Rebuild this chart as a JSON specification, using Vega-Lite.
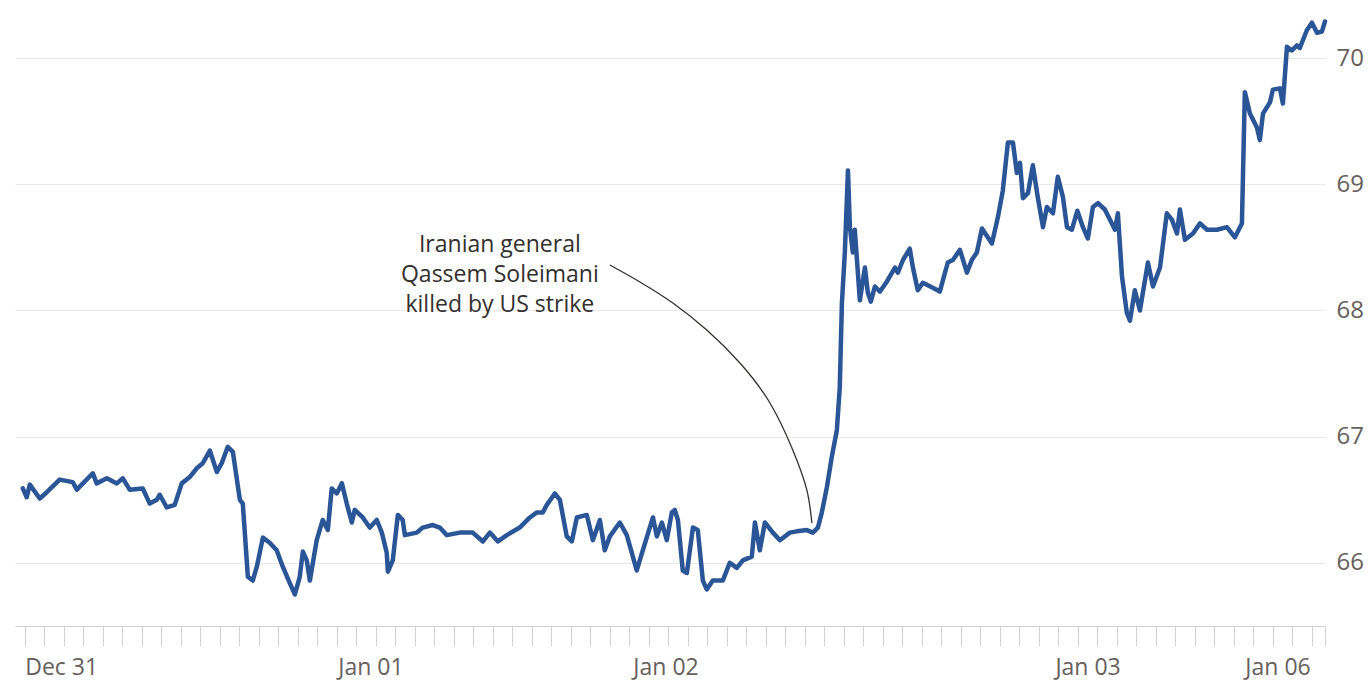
{
  "$schema": "https://vega.github.io/schema/vega-lite/v6.json",
  "width": 1310,
  "height": 626,
  "autosize": {"type": "none"},
  "padding": {"left": 15, "top": 0, "right": 47, "bottom": 58},
  "background": "white",
  "config": {"view": {"stroke": null}, "font": "Open Sans"},
  "datasets": {
    "price": [
      {"t":-0.10,"v":66.59},{"t":0.10,"v":66.52},{"t":0.26,"v":66.62},{"t":0.77,"v":66.51},{"t":1.13,"v":66.56},
      {"t":1.79,"v":66.66},{"t":2.46,"v":66.64},{"t":2.67,"v":66.58},{"t":3.49,"v":66.71},{"t":3.69,"v":66.63},
      {"t":4.21,"v":66.67},{"t":4.72,"v":66.63},{"t":5.03,"v":66.67},{"t":5.38,"v":66.58},{"t":6.05,"v":66.59},
      {"t":6.41,"v":66.47},{"t":6.77,"v":66.50},{"t":6.92,"v":66.54},{"t":7.28,"v":66.44},{"t":7.69,"v":66.46},
      {"t":8.05,"v":66.63},{"t":8.46,"v":66.68},{"t":8.82,"v":66.75},{"t":9.13,"v":66.79},{"t":9.49,"v":66.89},
      {"t":9.85,"v":66.72},{"t":10.10,"v":66.79},{"t":10.41,"v":66.92},{"t":10.67,"v":66.88},{"t":11.03,"v":66.50},
      {"t":11.18,"v":66.47},{"t":11.44,"v":65.89},{"t":11.69,"v":65.86},{"t":11.90,"v":65.97},{"t":12.21,"v":66.20},
      {"t":12.56,"v":66.16},{"t":12.92,"v":66.10},{"t":13.23,"v":65.97},{"t":13.59,"v":65.84},{"t":13.85,"v":65.75},
      {"t":14.10,"v":65.89},{"t":14.26,"v":66.09},{"t":14.46,"v":66.02},{"t":14.62,"v":65.86},{"t":14.97,"v":66.18},
      {"t":15.28,"v":66.34},{"t":15.54,"v":66.26},{"t":15.74,"v":66.59},{"t":16.00,"v":66.55},{"t":16.26,"v":66.63},
      {"t":16.51,"v":66.47},{"t":16.77,"v":66.32},{"t":16.92,"v":66.42},{"t":17.33,"v":66.36},{"t":17.69,"v":66.28},
      {"t":18.05,"v":66.34},{"t":18.31,"v":66.24},{"t":18.56,"v":66.08},{"t":18.62,"v":65.93},{"t":18.87,"v":66.02},
      {"t":19.13,"v":66.38},{"t":19.38,"v":66.34},{"t":19.49,"v":66.22},{"t":20.10,"v":66.24},{"t":20.41,"v":66.28},
      {"t":20.92,"v":66.30},{"t":21.28,"v":66.28},{"t":21.64,"v":66.22},{"t":22.31,"v":66.24},{"t":22.97,"v":66.24},
      {"t":23.49,"v":66.17},{"t":23.85,"v":66.24},{"t":24.26,"v":66.17},{"t":24.72,"v":66.22},{"t":25.38,"v":66.28},
      {"t":25.90,"v":66.36},{"t":26.26,"v":66.40},{"t":26.56,"v":66.40},{"t":26.77,"v":66.46},{"t":27.18,"v":66.55},
      {"t":27.44,"v":66.50},{"t":27.79,"v":66.21},{"t":28.05,"v":66.17},{"t":28.31,"v":66.36},{"t":28.82,"v":66.38},
      {"t":29.13,"v":66.18},{"t":29.49,"v":66.34},{"t":29.74,"v":66.10},{"t":30.00,"v":66.21},{"t":30.51,"v":66.32},
      {"t":30.87,"v":66.22},{"t":31.38,"v":65.94},{"t":31.69,"v":66.10},{"t":32.21,"v":66.36},{"t":32.41,"v":66.21},
      {"t":32.67,"v":66.32},{"t":32.92,"v":66.18},{"t":33.18,"v":66.40},{"t":33.33,"v":66.42},{"t":33.49,"v":66.34},
      {"t":33.74,"v":65.94},{"t":33.95,"v":65.92},{"t":34.26,"v":66.28},{"t":34.51,"v":66.26},{"t":34.77,"v":65.86},
      {"t":34.97,"v":65.79},{"t":35.28,"v":65.86},{"t":35.79,"v":65.86},{"t":36.15,"v":66.00},{"t":36.51,"v":65.96},
      {"t":36.82,"v":66.02},{"t":37.28,"v":66.05},{"t":37.44,"v":66.32},{"t":37.69,"v":66.10},{"t":37.95,"v":66.32},
      {"t":38.36,"v":66.24},{"t":38.72,"v":66.18},{"t":39.23,"v":66.24},{"t":39.59,"v":66.25},{"t":40.10,"v":66.26},
      {"t":40.41,"v":66.24},{"t":40.67,"v":66.28},{"t":40.87,"v":66.40},{"t":41.13,"v":66.60},{"t":41.38,"v":66.84},
      {"t":41.64,"v":67.05},{"t":41.79,"v":67.39},{"t":41.90,"v":68.06},{"t":42.05,"v":68.46},{"t":42.21,"v":69.11},
      {"t":42.31,"v":68.66},{"t":42.46,"v":68.46},{"t":42.56,"v":68.64},{"t":42.82,"v":68.08},{"t":43.08,"v":68.34},
      {"t":43.23,"v":68.14},{"t":43.38,"v":68.07},{"t":43.59,"v":68.19},{"t":43.85,"v":68.15},{"t":44.21,"v":68.23},
      {"t":44.62,"v":68.34},{"t":44.77,"v":68.30},{"t":45.03,"v":68.40},{"t":45.38,"v":68.49},{"t":45.54,"v":68.34},
      {"t":45.79,"v":68.16},{"t":46.05,"v":68.22},{"t":46.56,"v":68.18},{"t":46.92,"v":68.15},{"t":47.08,"v":68.24},
      {"t":47.33,"v":68.38},{"t":47.59,"v":68.40},{"t":47.95,"v":68.48},{"t":48.31,"v":68.30},{"t":48.56,"v":68.40},
      {"t":48.82,"v":68.46},{"t":49.08,"v":68.65},{"t":49.38,"v":68.58},{"t":49.59,"v":68.53},{"t":49.90,"v":68.74},
      {"t":50.15,"v":68.95},{"t":50.41,"v":69.33},{"t":50.67,"v":69.33},{"t":50.87,"v":69.09},{"t":51.03,"v":69.17},
      {"t":51.18,"v":68.89},{"t":51.44,"v":68.93},{"t":51.69,"v":69.15},{"t":51.95,"v":68.89},{"t":52.21,"v":68.66},
      {"t":52.41,"v":68.82},{"t":52.72,"v":68.77},{"t":52.97,"v":69.06},{"t":53.23,"v":68.90},{"t":53.44,"v":68.66},
      {"t":53.69,"v":68.64},{"t":53.97,"v":68.79},{"t":54.26,"v":68.66},{"t":54.51,"v":68.57},{"t":54.77,"v":68.82},
      {"t":55.03,"v":68.85},{"t":55.38,"v":68.80},{"t":55.64,"v":68.72},{"t":55.90,"v":68.64},{"t":56.05,"v":68.77},
      {"t":56.26,"v":68.27},{"t":56.51,"v":67.98},{"t":56.67,"v":67.92},{"t":56.92,"v":68.16},{"t":57.18,"v":68.00},
      {"t":57.59,"v":68.38},{"t":57.85,"v":68.19},{"t":58.21,"v":68.34},{"t":58.56,"v":68.77},{"t":58.82,"v":68.72},
      {"t":59.08,"v":68.61},{"t":59.23,"v":68.80},{"t":59.49,"v":68.56},{"t":59.90,"v":68.61},{"t":60.26,"v":68.69},
      {"t":60.62,"v":68.64},{"t":61.13,"v":68.64},{"t":61.64,"v":68.66},{"t":62.05,"v":68.58},{"t":62.41,"v":68.69},
      {"t":62.56,"v":69.73},{"t":62.82,"v":69.56},{"t":63.18,"v":69.45},{"t":63.33,"v":69.35},{"t":63.49,"v":69.56},
      {"t":63.85,"v":69.65},{"t":64.00,"v":69.75},{"t":64.36,"v":69.76},{"t":64.51,"v":69.64},{"t":64.72,"v":70.09},
      {"t":64.97,"v":70.06},{"t":65.23,"v":70.10},{"t":65.38,"v":70.08},{"t":65.74,"v":70.22},{"t":66.00,"v":70.28},
      {"t":66.26,"v":70.20},{"t":66.51,"v":70.21},{"t":66.67,"v":70.29}
    ],
    "arc": [
      {"t":30.00,"v":68.360},{"t":31.54,"v":68.226},{"t":33.23,"v":68.059},{"t":34.97,"v":67.845},
      {"t":36.67,"v":67.584},{"t":38.21,"v":67.267},{"t":39.38,"v":66.895},{"t":40.10,"v":66.578},{"t":40.36,"v":66.316}
    ],
    "note": [
      {"t":24.36,"v":68.463,"label":"Iranian general\nQassem Soleimani\nkilled by US strike"}
    ]
  },
  "encoding": {
    "x": {
      "field": "t",
      "type": "quantitative",
      "scale": {"domain": [-0.5, 66.67], "nice": false, "zero": false},
      "axis": {
        "title": null,
        "grid": false,
        "values": [0,1,2,3,4,5,6,7,8,9,10,11,12,13,14,15,16,17,18,19,20,21,22,23,24,25,26,27,28,29,30,31,32,33,34,35,36,37,38,39,40,41,42,43,44,45,46,47,48,49,50,51,52,53,54,55,56,57,58,59,60,61,62,63,64,65,66,66.67,16.05,31.18,52.82,62.56],
        "labelExpr": "datum.value == 0 ? 'Dec 31' : datum.value == 16.05 ? 'Jan 01' : datum.value == 31.18 ? 'Jan 02' : datum.value == 52.82 ? 'Jan 03' : datum.value == 62.56 ? 'Jan 06' : ''",
        "tickOpacity": {"condition": {"test": "datum.value == 16.05 || datum.value == 31.18 || datum.value == 52.82 || datum.value == 62.56", "value": 0}, "value": 1},
        "tickSize": 20,
        "tickColor": "#d4d2d0",
        "tickWidth": 1,
        "domainColor": "#d4d2d0",
        "domainWidth": 1.2,
        "labelAlign": "left",
        "labelFlush": false,
        "labelOverlap": false,
        "labelBound": false,
        "labelPadding": 10,
        "labelFont": "Open Sans",
        "labelFontSize": 23,
        "labelColor": "#66605c"
      }
    },
    "y": {
      "field": "v",
      "type": "quantitative",
      "scale": {"domain": [65.5, 70.46], "nice": false, "zero": false},
      "axis": {
        "orient": "right",
        "title": null,
        "values": [66, 67, 68, 69, 70],
        "format": "d",
        "domain": false,
        "ticks": false,
        "grid": true,
        "gridColor": "#ebe9e7",
        "gridWidth": 1.2,
        "labelPadding": 11,
        "labelFont": "Open Sans",
        "labelFontSize": 24,
        "labelColor": "#66605c",
        "labelBaseline": "middle"
      }
    }
  },
  "layer": [
    {
      "data": {"name": "price"},
      "mark": {"type": "line", "color": "#2a5596", "strokeWidth": 4.5, "strokeJoin": "round", "strokeCap": "round"}
    },
    {
      "data": {"name": "arc"},
      "mark": {"type": "line", "color": "#33302e", "strokeWidth": 1.3, "interpolate": "natural"}
    },
    {
      "data": {"name": "note"},
      "mark": {"type": "text", "align": "center", "baseline": "alphabetic", "lineBreak": "\n", "lineHeight": 30, "font": "Open Sans", "fontSize": 23, "color": "#33302e"},
      "encoding": {"text": {"field": "label", "type": "nominal"}}
    }
  ]
}
